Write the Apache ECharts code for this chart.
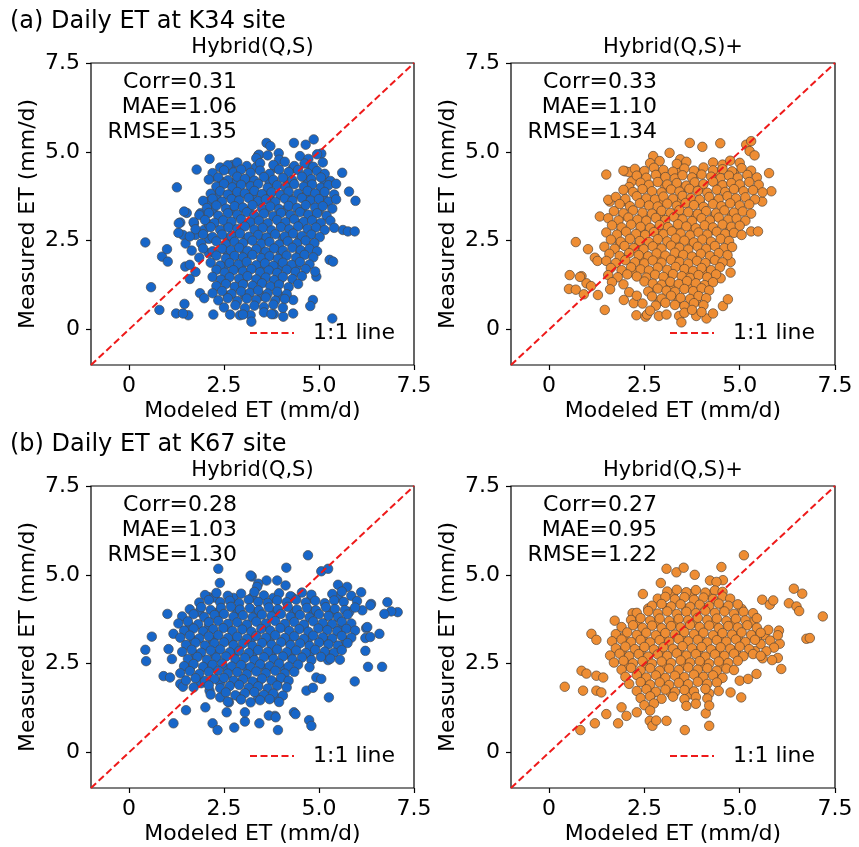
<!DOCTYPE html>
<html>
<head>
<meta charset="utf-8">
<script src="https://cdn.jsdelivr.net/npm/echarts@6/dist/echarts.min.js"></script>
<style>
html, body { margin: 0; padding: 0; background: #fff; }
#chart { width: 859px; height: 847px; }
</style>
</head>
<body>
<div id="chart"></div>
<script>
// ---- data ----
const tickValues = [0, 2.5, 5, 7.5]
const axisRange = [-1, 7.5]
const siteTitles = ['(a) Daily ET at K34 site', '(b) Daily ET at K67 site']
const panelTitles = ['Hybrid(Q,S)', 'Hybrid(Q,S)+', 'Hybrid(Q,S)', 'Hybrid(Q,S)+']
const statsCorr = ['0.31', '0.33', '0.28', '0.27']
const statsMae = ['1.06', '1.10', '1.03', '0.95']
const statsRmse = ['1.35', '1.34', '1.30', '1.22']
const oneToOne = [[-1, -1], [7.5, 7.5]]

// (a) K34, Hybrid(Q,S)
const k34Hybrid = [
    [0.43,2.45],[0.58,1.19],[0.80,0.55],[0.87,2.05],[1.0,2.26],[1.02,1.91],[1.26,4.0],[1.24,0.45],[1.35,3.01],[1.42,2.66],
    [1.30,2.72],[1.46,0.72],[1.56,0.40],[1.42,0.45],[1.52,3.28],[1.48,1.77],[1.78,4.5],[2.12,4.8],[1.87,1.02],[1.98,0.88],
    [2.22,0.42],[2.66,0.42],[2.92,0.40],[3.2,0.40],[3.22,0.22],[3.62,5.25],[3.72,5.16],[3.4,4.9],[4.34,5.25],[4.65,5.2],
    [4.86,5.35],[5.06,4.95],[5.61,4.41],[5.79,3.88],[5.96,3.62],[5.63,2.8],[5.76,2.76],[5.94,2.76],[5.28,1.96],[5.37,1.91],
    [5.35,0.31],[4.32,0.83],[4.32,0.45],[4.84,0.83],[4.77,0.66],[4.06,0.36],[3.81,0.43],[4.93,1.49],[1.31,2.99],[1.71,2.99],
    [1.75,2.66],[1.97,2.8],[1.49,2.42],[1.88,3.27],[2.1,3.6],[3.42,4.92],[3.94,4.96],[2.72,4.63],[2.23,4.3],[1.45,3.32],
    [2.4,4.56],[2.65,4.52],[3.35,4.57],[3.85,4.55],[4.3,4.53],[4.8,4.56],
    [2.45,4.15],[2.75,4.13],[3.15,4.16],[3.7,4.12],[4.2,4.15],[4.7,4.14],[5.15,4.16],
    [2.3,3.76],[2.8,3.74],[3.25,3.77],[3.7,3.75],[4.2,3.73],[4.65,3.76],[5.1,3.75],
    [2.2,3.35],[2.7,3.36],[3.15,3.34],[3.6,3.36],[4.1,3.35],[4.55,3.34],[5.0,3.36],
    [2.1,2.96],[2.6,2.94],[3.05,2.97],[3.55,2.95],[4.0,2.94],[4.5,2.96],[4.95,2.95],
    [2.1,2.55],[2.6,2.56],[3.1,2.54],[3.55,2.56],[4.05,2.55],[4.5,2.54],
    [2.1,2.15],[2.6,2.16],[3.05,2.14],[3.55,2.16],[4.0,2.15],[4.5,2.14],
    [2.5,1.76],[2.95,1.74],[3.45,1.76],[3.95,1.75],[4.4,1.74],
    [2.55,1.35],[3.0,1.36],[3.5,1.34],[3.95,1.35],
    [2.6,0.95],[3.05,0.96],[3.5,0.94],[3.95,0.95],
    [3.35,4.82],[3.65,4.9],[3.95,4.78],[4.5,4.88],[4.72,4.8],[4.95,4.93],
    [2.6,4.62],[2.85,4.7],[3.1,4.6],[3.45,4.68],[3.8,4.63],[4.1,4.72],[4.35,4.6],[4.62,4.67],[4.85,4.58],[5.1,4.7],
    [2.2,4.4],[2.5,4.48],[2.75,4.42],[2.95,4.5],[3.2,4.41],[3.45,4.47],[3.7,4.38],[3.95,4.5],[4.2,4.43],[4.45,4.49],[4.7,4.4],[4.95,4.46],[5.15,4.38],
    [2.1,4.22],[2.35,4.28],[2.6,4.2],[2.85,4.3],[3.05,4.24],[3.3,4.19],[3.55,4.29],[3.8,4.21],[4.05,4.27],[4.3,4.2],[4.55,4.3],[4.8,4.23],[5.05,4.28],[5.3,4.18],
    [2.3,4.02],[2.5,4.1],[2.72,4.0],[2.95,4.07],[3.2,4.03],[3.4,4.1],[3.65,3.99],[3.9,4.06],[4.12,4.01],[4.35,4.09],[4.6,4.02],[4.82,4.08],[5.05,3.99],[5.25,4.06],[5.45,4.1],
    [2.15,3.82],[2.4,3.89],[2.6,3.8],[2.85,3.87],[3.05,3.83],[3.3,3.9],[3.5,3.81],[3.75,3.86],[3.98,3.79],[4.2,3.88],[4.45,3.82],[4.7,3.9],[4.9,3.83],[5.15,3.87],[5.4,3.8],
    [1.95,3.62],[2.2,3.68],[2.45,3.6],[2.7,3.67],[2.9,3.63],[3.15,3.7],[3.4,3.61],[3.6,3.66],[3.85,3.59],[4.1,3.68],[4.3,3.62],[4.55,3.7],[4.78,3.63],[5.0,3.67],[5.25,3.6],[5.45,3.66],
    [2.05,3.42],[2.3,3.49],[2.55,3.4],[2.78,3.47],[3.0,3.43],[3.25,3.5],[3.5,3.41],[3.72,3.46],[3.95,3.39],[4.2,3.48],[4.42,3.42],[4.65,3.5],[4.9,3.43],[5.1,3.47],[5.35,3.4],
    [1.85,3.22],[2.1,3.28],[2.35,3.2],[2.6,3.27],[2.85,3.23],[3.1,3.3],[3.3,3.21],[3.55,3.26],[3.8,3.19],[4.0,3.28],[4.25,3.22],[4.5,3.3],[4.72,3.23],[4.95,3.27],[5.2,3.2],
    [1.7,3.02],[2.0,3.08],[2.25,3.0],[2.48,3.07],[2.7,3.03],[2.95,3.1],[3.2,3.01],[3.42,3.06],[3.65,2.99],[3.9,3.08],[4.12,3.02],[4.35,3.1],[4.6,3.03],[4.82,3.07],[5.05,3.0],[5.3,3.06],
    [1.75,2.82],[2.15,2.88],[2.4,2.8],[2.62,2.87],[2.85,2.83],[3.05,2.9],[3.3,2.81],[3.52,2.86],[3.75,2.79],[4.0,2.88],[4.22,2.82],[4.45,2.9],[4.7,2.83],[4.92,2.87],[5.15,2.8],[5.4,2.86],
    [1.6,2.62],[1.95,2.68],[2.2,2.6],[2.45,2.67],[2.7,2.63],[2.92,2.7],[3.15,2.61],[3.4,2.66],[3.62,2.59],[3.85,2.68],[4.1,2.62],[4.32,2.7],[4.55,2.63],[4.8,2.67],[5.02,2.6],
    [1.9,2.42],[2.3,2.48],[2.55,2.4],[2.78,2.47],[3.0,2.43],[3.25,2.5],[3.48,2.41],[3.7,2.46],[3.95,2.39],[4.18,2.48],[4.42,2.42],[4.65,2.5],[4.88,2.43],
    [1.65,2.22],[1.95,2.28],[2.2,2.2],[2.45,2.27],[2.68,2.23],[2.9,2.3],[3.12,2.21],[3.35,2.26],[3.6,2.19],[3.82,2.28],[4.05,2.22],[4.3,2.3],[4.52,2.23],[4.75,2.27],[4.95,2.2],
    [1.85,2.02],[2.3,2.08],[2.55,2.0],[2.78,2.07],[3.0,2.03],[3.25,2.1],[3.48,2.01],[3.7,2.06],[3.92,1.99],[4.15,2.08],[4.4,2.02],[4.62,2.1],[4.85,2.03],
    [1.6,1.82],[2.15,1.88],[2.4,1.8],[2.65,1.87],[2.88,1.83],[3.1,1.9],[3.35,1.81],[3.58,1.86],[3.8,1.79],[4.05,1.88],[4.28,1.82],[4.5,1.9],[4.75,1.83],
    [1.75,1.62],[2.3,1.68],[2.52,1.6],[2.75,1.67],[3.0,1.63],[3.22,1.7],[3.45,1.61],[3.68,1.66],[3.9,1.59],[4.15,1.68],[4.38,1.62],[4.65,1.7],[4.9,1.63],
    [1.6,1.42],[2.2,1.48],[2.42,1.4],[2.65,1.47],[2.9,1.43],[3.12,1.5],[3.35,1.41],[3.6,1.46],[3.82,1.39],[4.05,1.48],[4.3,1.42],[4.55,1.5],
    [2.3,1.22],[2.55,1.28],[2.78,1.2],[3.0,1.27],[3.25,1.23],[3.5,1.3],[3.72,1.21],[3.95,1.26],[4.2,1.19],[4.45,1.28],
    [2.2,1.02],[2.45,1.08],[2.7,1.0],[2.95,1.07],[3.18,1.03],[3.4,1.1],[3.65,1.01],[3.9,1.06],[4.15,0.99],
    [2.35,0.82],[2.6,0.88],[2.85,0.8],[3.1,0.87],[3.35,0.83],[3.6,0.9],[3.85,0.81],[4.1,0.86],
    [2.5,0.62],[2.8,0.68],[3.05,0.6],[3.3,0.67],[3.55,0.63],[3.8,0.7],[4.05,0.61],
    [3.0,0.42],[3.55,0.48],[3.75,0.43]
]

// (a) K34, Hybrid(Q,S)+
const k34HybridPlus = [
    [0.52,1.14],[0.54,1.53],[0.7,1.12],[0.7,2.46],[0.85,1.5],[0.91,0.99],[1.02,2.26],[0.98,1.3],[1.1,1.22],[1.2,2.02],
    [1.27,1.93],[1.28,0.97],[1.46,0.55],[1.5,4.36],[1.59,3.6],[1.33,3.18],[2.0,4.45],[2.1,4.43],[2.17,4.17],[1.96,0.83],
    [2.22,0.74],[2.29,0.4],[2.53,0.36],[2.57,0.42],[2.88,0.38],[3.08,0.42],[3.41,0.38],[3.47,0.2],[3.86,0.38],[4.13,0.31],
    [4.3,0.45],[4.56,0.66],[4.69,0.85],[3.69,5.25],[4.02,5.14],[4.49,5.24],[3.16,4.97],[2.73,4.88],[5.17,5.2],[5.3,5.3],
    [5.26,5.02],[5.39,4.9],[5.77,4.4],[5.83,3.89],[5.59,3.6],[5.3,2.76],[5.48,2.76],[4.76,1.9],[4.76,1.6],[4.5,1.44],
    [0.81,1.48],[1.55,3.65],[1.95,4.47],[3.44,4.79],[3.48,4.6],
    [2.45,4.42],[2.95,4.4],[3.4,4.41],[3.9,4.39],[4.4,4.42],[4.85,4.4],
    [2.1,4.01],[2.55,4.0],[3.05,4.02],[3.55,4.0],[4.0,4.01],[4.5,4.0],[5.0,4.02],
    [2.0,3.61],[2.5,3.6],[2.95,3.62],[3.45,3.6],[3.95,3.61],[4.4,3.6],[4.9,3.62],
    [1.95,3.21],[2.45,3.2],[2.9,3.22],[3.4,3.2],[3.85,3.21],[4.35,3.2],[4.8,3.22],
    [1.9,2.81],[2.4,2.8],[2.85,2.82],[3.35,2.8],[3.8,2.81],[4.3,2.8],[4.75,2.82],
    [1.85,2.41],[2.35,2.4],[2.8,2.42],[3.3,2.4],[3.75,2.41],[4.25,2.4],
    [1.9,2.01],[2.4,2.0],[2.85,2.02],[3.3,2.0],[3.8,2.01],[4.25,2.0],
    [2.2,1.61],[2.7,1.6],[3.15,1.62],[3.6,1.6],[4.05,1.61],
    [2.75,1.21],[3.2,1.2],[3.65,1.22],[4.1,1.2],
    [2.9,0.8],[3.4,0.81],[3.85,0.8],
    [2.65,4.68],[2.9,4.74],[3.35,4.66],[3.6,4.72],[4.3,4.7],[4.55,4.64],[4.75,4.75],[5.0,4.69],
    [2.25,4.52],[2.5,4.46],[2.75,4.55],[3.0,4.49],[3.25,4.44],[3.55,4.53],[3.8,4.47],[4.05,4.56],[4.3,4.48],[4.55,4.51],[4.8,4.45],[5.05,4.54],[5.3,4.47],
    [2.3,4.33],[2.55,4.27],[2.8,4.35],[3.05,4.29],[3.3,4.25],[3.5,4.34],[3.75,4.28],[4.0,4.36],[4.25,4.3],[4.5,4.26],[4.72,4.33],[4.95,4.27],[5.2,4.35],[5.45,4.28],
    [2.4,4.13],[2.62,4.07],[2.85,4.15],[3.1,4.08],[3.35,4.12],[3.6,4.05],[3.82,4.14],[4.05,4.09],[4.3,4.16],[4.55,4.06],[4.78,4.12],[5.0,4.08],[5.25,4.15],[5.5,4.07],
    [1.95,3.93],[2.2,3.87],[2.45,3.95],[2.7,3.89],[2.95,3.86],[3.2,3.94],[3.42,3.88],[3.68,3.96],[3.9,3.9],[4.15,3.85],[4.4,3.93],[4.62,3.87],[4.85,3.95],[5.1,3.89],[5.35,3.92],[5.6,3.86],
    [1.75,3.73],[2.0,3.67],[2.3,3.75],[2.55,3.69],[2.78,3.66],[3.0,3.74],[3.25,3.68],[3.5,3.76],[3.72,3.7],[3.95,3.65],[4.2,3.73],[4.45,3.67],[4.68,3.75],[4.9,3.69],[5.15,3.72],[5.4,3.66],
    [1.85,3.53],[2.12,3.47],[2.38,3.55],[2.62,3.49],[2.85,3.46],[3.1,3.54],[3.35,3.48],[3.58,3.56],[3.8,3.5],[4.05,3.45],[4.3,3.53],[4.52,3.47],[4.75,3.55],[5.0,3.49],[5.25,3.52],
    [1.7,3.33],[1.95,3.27],[2.2,3.35],[2.45,3.29],[2.7,3.26],[2.95,3.34],[3.18,3.28],[3.42,3.36],[3.65,3.3],[3.9,3.25],[4.12,3.33],[4.38,3.27],[4.6,3.35],[4.85,3.29],[5.08,3.32],[5.3,3.26],
    [1.55,3.13],[1.82,3.07],[2.08,3.15],[2.32,3.09],[2.55,3.06],[2.8,3.14],[3.05,3.08],[3.28,3.16],[3.5,3.1],[3.75,3.05],[4.0,3.13],[4.22,3.07],[4.45,3.15],[4.7,3.09],[4.92,3.12],[5.15,3.06],
    [1.65,2.93],[1.9,2.87],[2.15,2.95],[2.4,2.89],[2.65,2.86],[2.9,2.94],[3.12,2.88],[3.38,2.96],[3.6,2.9],[3.85,2.85],[4.08,2.93],[4.3,2.87],[4.55,2.95],[4.78,2.89],[5.0,2.92],
    [1.5,2.73],[1.78,2.67],[2.02,2.75],[2.28,2.69],[2.52,2.66],[2.75,2.74],[3.0,2.68],[3.22,2.76],[3.45,2.7],[3.7,2.65],[3.92,2.73],[4.15,2.67],[4.4,2.75],[4.62,2.69],[4.85,2.72],[5.05,2.66],
    [1.62,2.53],[1.88,2.47],[2.12,2.55],[2.38,2.49],[2.62,2.46],[2.85,2.54],[3.1,2.48],[3.32,2.56],[3.55,2.5],[3.8,2.45],[4.02,2.53],[4.25,2.47],[4.5,2.55],[4.72,2.49],
    [1.45,2.33],[1.72,2.27],[1.98,2.35],[2.22,2.29],[2.48,2.26],[2.72,2.34],[2.95,2.28],[3.2,2.36],[3.42,2.3],[3.65,2.25],[3.9,2.33],[4.12,2.27],[4.35,2.35],[4.6,2.29],[4.8,2.32],
    [1.58,2.13],[1.85,2.07],[2.1,2.15],[2.35,2.09],[2.6,2.06],[2.82,2.14],[3.05,2.08],[3.3,2.16],[3.52,2.1],[3.75,2.05],[3.98,2.13],[4.22,2.07],[4.45,2.15],[4.68,2.09],
    [1.5,1.93],[1.75,1.87],[2.0,1.95],[2.25,1.89],[2.5,1.86],[2.72,1.94],[2.95,1.88],[3.2,1.96],[3.42,1.9],[3.65,1.85],[3.88,1.93],[4.1,1.87],[4.35,1.95],[4.55,1.89],
    [1.62,1.73],[1.9,1.67],[2.15,1.75],[2.4,1.69],[2.62,1.66],[2.85,1.74],[3.1,1.68],[3.32,1.76],[3.55,1.7],[3.78,1.65],[4.0,1.73],[4.25,1.67],[4.48,1.75],
    [1.55,1.53],[1.8,1.47],[2.05,1.55],[2.3,1.49],[2.55,1.46],[2.78,1.54],[3.0,1.48],[3.25,1.56],[3.48,1.5],[3.7,1.45],[3.92,1.53],[4.15,1.47],[4.38,1.55],
    [1.65,1.33],[1.95,1.27],[2.5,1.35],[2.72,1.29],[2.95,1.26],[3.18,1.34],[3.4,1.28],[3.62,1.36],[3.85,1.3],[4.08,1.25],[4.3,1.33],
    [1.6,1.13],[2.1,1.05],[2.6,1.07],[2.85,1.15],[3.08,1.09],[3.3,1.06],[3.55,1.14],[3.78,1.08],[4.0,1.16],[4.2,1.1],
    [2.3,0.95],[2.7,0.93],[2.95,0.87],[3.2,0.95],[3.45,0.89],[3.7,0.86],[3.92,0.94],[4.12,0.88],
    [2.45,0.73],[2.8,0.67],[3.05,0.75],[3.3,0.69],[3.55,0.66],[3.8,0.74],[4.05,0.68],
    [2.65,0.53],[3.55,0.47],[3.75,0.55],[4.0,0.49]
]

// (b) K67, Hybrid(Q,S)
const k67Hybrid = [
    [0.43,2.89],[0.45,2.57],[0.6,3.26],[1.01,3.9],[1.17,0.82],[1.5,1.19],[0.91,2.15],[1.08,2.11],[1.04,2.91],[1.13,2.63],
    [1.17,3.34],[1.35,1.93],[1.42,1.85],[2.35,5.17],[2.39,4.77],[2.2,0.82],[2.33,0.63],[2.77,0.7],[3.05,0.87],[3.05,1.13],
    [2.57,1.13],[3.43,0.82],[3.92,0.63],[3.84,1.03],[4.34,1.13],[4.74,0.91],[4.8,0.75],[3.23,4.95],[3.62,4.84],[3.4,4.75],
    [4.14,5.2],[4.71,5.55],[5.06,5.1],[5.24,5.17],[5.5,4.72],[6.11,4.51],[6.37,4.18],[6.8,4.23],[7.07,3.95],[6.9,3.97],
    [6.72,3.9],[6.24,3.5],[6.59,3.34],[6.22,2.86],[6.29,2.41],[6.66,2.41],[5.94,2.0],[5.26,1.55],[6.22,3.22],[5.24,2.6],
    [4.93,2.11],[5.06,2.07],[4.67,1.74],[4.84,1.82],[2.12,1.74],[2.01,1.27],[2.63,1.41],[6.27,3.53],[6.35,3.25],[6.35,4.14],
    [6.14,4.0],[5.74,4.66],[3.2,4.98],[3.37,4.66],[3.9,4.84],[4.12,4.7],[2.1,4.37],[3.68,1.04],[3.86,0.99],[4.38,1.08],
    [2.25,4.36],[2.75,4.35],[3.25,4.37],[3.8,4.35],[4.3,4.36],[4.8,4.35],[5.5,4.37],
    [1.85,3.96],[2.35,3.95],[2.85,3.97],[3.35,3.95],[3.85,3.96],[4.35,3.95],[4.85,3.97],[5.35,3.95],[5.8,3.96],
    [1.6,3.55],[2.1,3.56],[2.6,3.54],[3.1,3.56],[3.6,3.55],[4.1,3.54],[4.6,3.56],[5.1,3.55],[5.6,3.54],
    [1.7,3.15],[2.2,3.16],[2.7,3.14],[3.2,3.16],[3.7,3.15],[4.2,3.14],[4.7,3.16],[5.2,3.15],[5.7,3.14],
    [1.75,2.75],[2.25,2.76],[2.75,2.74],[3.25,2.76],[3.75,2.75],[4.25,2.74],[4.75,2.76],[5.25,2.75],
    [1.6,2.35],[2.1,2.36],[2.6,2.34],[3.1,2.36],[3.6,2.35],[4.1,2.34],
    [1.9,1.95],[2.4,1.96],[2.9,1.94],[3.4,1.96],[3.9,1.95],
    [2.4,1.55],[2.9,1.56],[3.4,1.54],[3.85,1.55],
    [2.0,4.43],[2.3,4.49],[2.6,4.41],[2.95,4.47],[3.3,4.52],[3.55,4.42],[3.95,4.48],[4.25,4.4],[4.55,4.5],[4.8,4.44],[5.35,4.46],[5.6,4.53],[5.85,4.41],
    [1.85,4.22],[2.1,4.29],[2.4,4.23],[2.65,4.27],[2.9,4.2],[3.15,4.3],[3.4,4.24],[3.65,4.21],[3.9,4.28],[4.15,4.23],[4.4,4.3],[4.65,4.22],[4.9,4.27],[5.15,4.2],[5.4,4.28],[5.65,4.24],[6.0,4.26],
    [1.6,4.03],[1.9,4.09],[2.15,4.01],[2.42,4.07],[2.68,4.1],[2.92,4.02],[3.18,4.06],[3.42,4.0],[3.68,4.08],[3.92,4.03],[4.18,4.1],[4.42,4.02],[4.68,4.07],[4.92,4.0],[5.18,4.09],[5.42,4.04],[5.68,4.01],[5.95,4.08],
    [1.4,3.83],[1.7,3.89],[1.98,3.81],[2.25,3.87],[2.5,3.9],[2.75,3.82],[3.0,3.86],[3.25,3.8],[3.5,3.88],[3.75,3.83],[4.0,3.9],[4.25,3.82],[4.5,3.87],[4.75,3.8],[5.0,3.89],[5.25,3.84],[5.5,3.81],[5.75,3.88],
    [1.3,3.63],[1.55,3.69],[1.82,3.61],[2.1,3.67],[2.35,3.7],[2.6,3.62],[2.85,3.66],[3.1,3.6],[3.35,3.68],[3.6,3.63],[3.85,3.7],[4.1,3.62],[4.35,3.67],[4.6,3.6],[4.85,3.69],[5.1,3.64],[5.35,3.61],[5.6,3.68],[5.85,3.63],
    [1.45,3.43],[1.7,3.49],[1.95,3.41],[2.22,3.47],[2.48,3.5],[2.72,3.42],[2.98,3.46],[3.22,3.4],[3.48,3.48],[3.72,3.43],[3.98,3.5],[4.22,3.42],[4.48,3.47],[4.72,3.4],[4.98,3.49],[5.22,3.44],[5.48,3.41],[5.72,3.48],[5.95,3.43],
    [1.35,3.23],[1.6,3.29],[1.85,3.21],[2.1,3.27],[2.35,3.3],[2.6,3.22],[2.85,3.26],[3.1,3.2],[3.35,3.28],[3.6,3.23],[3.85,3.3],[4.1,3.22],[4.35,3.27],[4.6,3.2],[4.85,3.29],[5.1,3.24],[5.35,3.21],[5.6,3.28],[5.85,3.23],
    [1.5,3.03],[1.75,3.09],[2.0,3.01],[2.25,3.07],[2.5,3.1],[2.75,3.02],[3.0,3.06],[3.25,3.0],[3.5,3.08],[3.75,3.03],[4.0,3.1],[4.25,3.02],[4.5,3.07],[4.75,3.0],[5.0,3.09],[5.25,3.04],[5.5,3.01],[5.75,3.08],
    [1.4,2.83],[1.65,2.89],[1.9,2.81],[2.15,2.87],[2.4,2.9],[2.65,2.82],[2.9,2.86],[3.15,2.8],[3.4,2.88],[3.65,2.83],[3.9,2.9],[4.15,2.82],[4.4,2.87],[4.65,2.8],[4.9,2.89],[5.15,2.84],[5.4,2.81],[5.6,2.88],
    [1.55,2.63],[1.8,2.69],[2.05,2.61],[2.3,2.67],[2.55,2.7],[2.8,2.62],[3.05,2.66],[3.3,2.6],[3.55,2.68],[3.8,2.63],[4.05,2.7],[4.3,2.62],[4.55,2.67],[4.8,2.6],[5.05,2.69],[5.3,2.64],[5.55,2.61],
    [1.45,2.43],[1.7,2.49],[1.95,2.41],[2.2,2.47],[2.45,2.5],[2.7,2.42],[2.95,2.46],[3.2,2.4],[3.45,2.48],[3.7,2.43],[3.95,2.5],[4.2,2.42],[4.45,2.47],[4.75,2.4],
    [1.35,2.23],[1.6,2.29],[1.85,2.21],[2.1,2.27],[2.35,2.3],[2.6,2.22],[2.85,2.26],[3.1,2.2],[3.35,2.28],[3.6,2.23],[3.85,2.3],[4.1,2.22],[4.35,2.27],
    [1.5,2.03],[1.75,2.09],[2.0,2.01],[2.25,2.07],[2.5,2.1],[2.75,2.02],[3.0,2.06],[3.25,2.0],[3.5,2.08],[3.75,2.03],[4.0,2.1],[4.2,2.02],
    [1.7,1.83],[2.1,1.89],[2.4,1.81],[2.65,1.87],[2.9,1.9],[3.15,1.82],[3.4,1.86],[3.65,1.8],[3.9,1.88],[4.15,1.83],
    [2.15,1.63],[2.55,1.69],[2.8,1.61],[3.05,1.67],[3.3,1.7],[3.55,1.62],[3.8,1.66],[4.05,1.6],
    [2.6,1.43],[2.95,1.49],[3.2,1.41],[3.45,1.47],[3.7,1.5],[3.95,1.42]
]

// (b) K67, Hybrid(Q,S)+
const k67HybridPlus = [
    [0.41,1.85],[0.85,2.3],[0.89,1.74],[0.82,0.63],[0.98,2.22],[1.11,3.34],[1.24,3.17],[1.2,0.82],[1.24,2.16],[1.42,2.11],
    [1.24,1.74],[1.37,1.69],[1.5,1.08],[1.81,0.82],[1.72,3.71],[2.19,3.92],[2.46,4.46],[1.9,1.27],[2.03,1.03],[2.64,0.89],
    [2.71,0.75],[3.08,0.89],[3.56,0.63],[4.2,0.75],[4.11,1.1],[2.93,4.77],[3.08,5.17],[3.34,5.07],[3.53,5.2],[4.52,5.22],
    [5.11,5.55],[4.56,4.85],[6.42,4.61],[6.64,4.47],[6.29,4.2],[6.49,4.11],[6.56,3.98],[7.18,3.83],[6.75,3.2],[6.84,3.22],
    [6.03,3.43],[6.05,3.06],[6.09,2.35],[6.0,2.66],[5.59,4.3],[5.79,4.16],[5.04,1.55],[5.44,2.21],[4.76,1.69],[5.0,2.02],
    [5.22,2.07],[5.88,4.28],[3.82,5.0],[4.22,4.84],[4.39,4.8],[2.81,0.9],
    [5.65,3.3],[5.8,3.15],[5.9,2.95],[5.7,2.85],[5.85,2.6],[5.6,2.65],[5.75,3.45],[6.0,3.3],[5.55,3.05],
    [3.25,4.45],[3.75,4.46],[4.25,4.44],
    [2.6,4.05],[3.1,4.06],[3.6,4.04],[4.1,4.06],[4.6,4.05],[5.05,4.04],
    [2.3,3.65],[2.8,3.66],[3.3,3.64],[3.8,3.66],[4.3,3.65],[4.8,3.64],[5.3,3.66],
    [1.95,3.25],[2.45,3.26],[2.95,3.24],[3.45,3.26],[3.95,3.25],[4.45,3.24],[4.95,3.26],[5.45,3.25],
    [1.9,2.85],[2.4,2.86],[2.9,2.84],[3.4,2.86],[3.9,2.85],[4.4,2.84],[4.9,2.86],[5.4,2.85],
    [2.05,2.45],[2.55,2.46],[3.05,2.44],[3.55,2.46],[4.05,2.45],[4.55,2.44],
    [2.5,2.05],[3.0,2.06],[3.5,2.04],[4.0,2.06],[4.45,2.05],
    [2.7,1.65],[3.2,1.66],[3.7,1.64],[4.2,1.66],
    [3.1,4.53],[3.35,4.58],[3.6,4.51],[3.85,4.57],[4.1,4.5],[4.35,4.56],[4.55,4.52],
    [2.85,4.33],[3.05,4.38],[3.3,4.31],[3.55,4.37],[3.8,4.3],[4.05,4.36],[4.3,4.32],[4.55,4.39],[4.75,4.33],
    [2.7,4.13],[2.95,4.18],[3.2,4.11],[3.45,4.17],[3.7,4.1],[3.95,4.16],[4.2,4.12],[4.45,4.19],[4.7,4.13],[4.95,4.17],
    [2.3,3.93],[2.6,3.98],[2.85,3.91],[3.1,3.97],[3.35,3.9],[3.6,3.96],[3.85,3.92],[4.1,3.99],[4.35,3.93],[4.6,3.97],[4.85,3.9],[5.1,3.96],[5.35,3.92],
    [2.15,3.73],[2.4,3.78],[2.65,3.71],[2.9,3.77],[3.15,3.7],[3.4,3.76],[3.65,3.72],[3.9,3.79],[4.15,3.73],[4.4,3.77],[4.65,3.7],[4.9,3.76],[5.15,3.72],[5.45,3.78],
    [1.9,3.53],[2.2,3.58],[2.45,3.51],[2.7,3.57],[2.95,3.5],[3.2,3.56],[3.45,3.52],[3.7,3.59],[3.95,3.53],[4.2,3.57],[4.45,3.5],[4.7,3.56],[4.95,3.52],[5.2,3.58],[5.45,3.51],
    [1.75,3.33],[2.05,3.38],[2.3,3.31],[2.55,3.37],[2.8,3.3],[3.05,3.36],[3.3,3.32],[3.55,3.39],[3.8,3.33],[4.05,3.37],[4.3,3.3],[4.55,3.36],[4.8,3.32],[5.05,3.38],[5.3,3.31],[5.55,3.37],
    [1.65,3.13],[1.9,3.18],[2.15,3.11],[2.4,3.17],[2.65,3.1],[2.9,3.16],[3.15,3.12],[3.4,3.19],[3.65,3.13],[3.9,3.17],[4.15,3.1],[4.4,3.16],[4.65,3.12],[4.9,3.18],[5.15,3.11],[5.4,3.17],
    [1.75,2.93],[2.0,2.98],[2.25,2.91],[2.5,2.97],[2.75,2.9],[3.0,2.96],[3.25,2.92],[3.5,2.99],[3.75,2.93],[4.0,2.97],[4.25,2.9],[4.5,2.96],[4.75,2.92],[5.0,2.98],[5.25,2.91],
    [1.6,2.73],[1.85,2.78],[2.1,2.71],[2.35,2.77],[2.6,2.7],[2.85,2.76],[3.1,2.72],[3.35,2.79],[3.6,2.73],[3.85,2.77],[4.1,2.7],[4.35,2.76],[4.6,2.72],[4.85,2.78],[5.1,2.71],[5.35,2.77],[5.55,2.72],
    [1.7,2.53],[1.95,2.58],[2.2,2.51],[2.45,2.57],[2.7,2.5],[2.95,2.56],[3.2,2.52],[3.45,2.59],[3.7,2.53],[3.95,2.57],[4.2,2.5],[4.45,2.56],[4.7,2.52],[4.95,2.58],
    [1.9,2.33],[2.15,2.38],[2.4,2.31],[2.65,2.37],[2.9,2.3],[3.15,2.36],[3.4,2.32],[3.65,2.39],[3.9,2.33],[4.15,2.37],[4.4,2.3],[4.65,2.36],[4.85,2.32],
    [2.0,2.13],[2.3,2.18],[2.55,2.11],[2.8,2.17],[3.05,2.1],[3.3,2.16],[3.55,2.12],[3.8,2.19],[4.05,2.13],[4.3,2.17],[4.55,2.1],
    [2.1,1.93],[2.4,1.98],[2.65,1.91],[2.9,1.97],[3.15,1.9],[3.4,1.96],[3.65,1.92],[3.9,1.99],[4.15,1.93],[4.4,1.97],
    [2.3,1.73],[2.55,1.78],[2.8,1.71],[3.05,1.77],[3.3,1.7],[3.55,1.76],[3.8,1.72],[4.1,1.79],[4.45,1.73],
    [2.4,1.53],[2.65,1.58],[2.95,1.51],[3.25,1.57],[3.55,1.5],[3.85,1.56],[4.15,1.52],
    [2.5,1.33],[2.75,1.38],[3.6,1.31],[3.85,1.37],[4.2,1.32],
    [2.3,1.13],[2.65,1.18]
]

// ---- layout / styles ----
const FONT = 'DejaVu Sans'
const panels = [
    { left: 91, top: 63, width: 323, height: 302, color: '#1766c9', edge: '#4a4a4a', data: k34Hybrid },
    { left: 511, top: 63, width: 324, height: 302, color: '#ee8d33', edge: '#5a4634', data: k34HybridPlus },
    { left: 91, top: 486, width: 323, height: 302, color: '#1766c9', edge: '#4a4a4a', data: k67Hybrid },
    { left: 511, top: 486, width: 324, height: 302, color: '#ee8d33', edge: '#5a4634', data: k67HybridPlus }
]
const lineName = '1:1 line'
const tickFmt = v => (v === 0 ? '0' : v.toFixed(1))

const chart = echarts.init(document.getElementById('chart'))

const option = {
    animation: false,
    backgroundColor: '#fff',
    grid: panels.map(p => ({
        left: p.left, top: p.top, width: p.width, height: p.height,
        show: true, borderColor: '#000', borderWidth: 1.2
    })),
    xAxis: panels.map((p, i) => ({
        type: 'value', gridIndex: i, min: axisRange[0], max: axisRange[1],
        name: 'Modeled ET (mm/d)', nameLocation: 'middle', nameGap: 35,
        nameTextStyle: { fontFamily: FONT, fontSize: 22, color: '#000' },
        axisLine: { show: false, onZero: false },
        axisTick: { show: true, inside: false, length: 5, customValues: tickValues, lineStyle: { color: '#000', width: 1.2 } },
        axisLabel: { customValues: tickValues, formatter: tickFmt, margin: 10, fontFamily: FONT, fontSize: 22, color: '#000' },
        splitLine: { show: false }
    })),
    yAxis: panels.map((p, i) => ({
        type: 'value', gridIndex: i, min: axisRange[0], max: axisRange[1],
        name: 'Measured ET (mm/d)', nameLocation: 'middle', nameGap: 52,
        nameTextStyle: { fontFamily: FONT, fontSize: 22, color: '#000' },
        axisLine: { show: false, onZero: false },
        axisTick: { show: true, inside: false, length: 5, customValues: tickValues, lineStyle: { color: '#000', width: 1.2 } },
        axisLabel: { customValues: tickValues, formatter: tickFmt, margin: 11, fontFamily: FONT, fontSize: 22, color: '#000' },
        splitLine: { show: false }
    })),
    legend: panels.map(p => ({
        left: p.left + 158, top: p.top + 259, padding: 0,
        itemWidth: 44, itemHeight: 14, selectedMode: false,
        data: [lineName],
        itemStyle: { opacity: 0 },
        textStyle: { fontFamily: FONT, fontSize: 22, color: '#000', padding: [0, 0, 0, 14] }
    })),
    series: [
        ...panels.map((p, i) => ({
            type: 'scatter', xAxisIndex: i, yAxisIndex: i, data: p.data,
            symbolSize: 9.5, z: 2, silent: true,
            itemStyle: { color: p.color, borderColor: p.edge, borderWidth: 0.7, opacity: 1 }
        })),
        ...panels.map((p, i) => ({
            type: 'line', name: lineName, xAxisIndex: i, yAxisIndex: i, data: oneToOne,
            symbol: 'none', z: 3, silent: true,
            itemStyle: { color: '#ee1a1a' },
            lineStyle: { color: '#ee1a1a', width: 2, type: [7, 3.5] }
        }))
    ],
    graphic: [
        ...siteTitles.map((t, i) => ({
            type: 'text', x: 10, y: i === 0 ? 22 : 445,
            style: { text: t, font: '24px "DejaVu Sans"', fill: '#000', align: 'left', verticalAlign: 'middle', textAlign: 'left', textVerticalAlign: 'middle' }
        })),
        ...panels.map((p, i) => ({
            type: 'text', x: p.left + p.width / 2, y: p.top - 15,
            style: { text: panelTitles[i], font: '21px "DejaVu Sans"', fill: '#000', align: 'center', verticalAlign: 'middle', textAlign: 'center', textVerticalAlign: 'middle' }
        })),
        ...panels.map((p, i) => ({
            type: 'text', x: p.left + 146, y: p.top + 44,
            style: {
                text: 'Corr=' + statsCorr[i] + '\nMAE=' + statsMae[i] + '\nRMSE=' + statsRmse[i],
                font: '22px "DejaVu Sans"', lineHeight: 25, fill: '#000',
                align: 'right', verticalAlign: 'middle', textAlign: 'right', textVerticalAlign: 'middle'
            }
        }))
    ]
}

chart.setOption(option)
</script>
</body>
</html>
